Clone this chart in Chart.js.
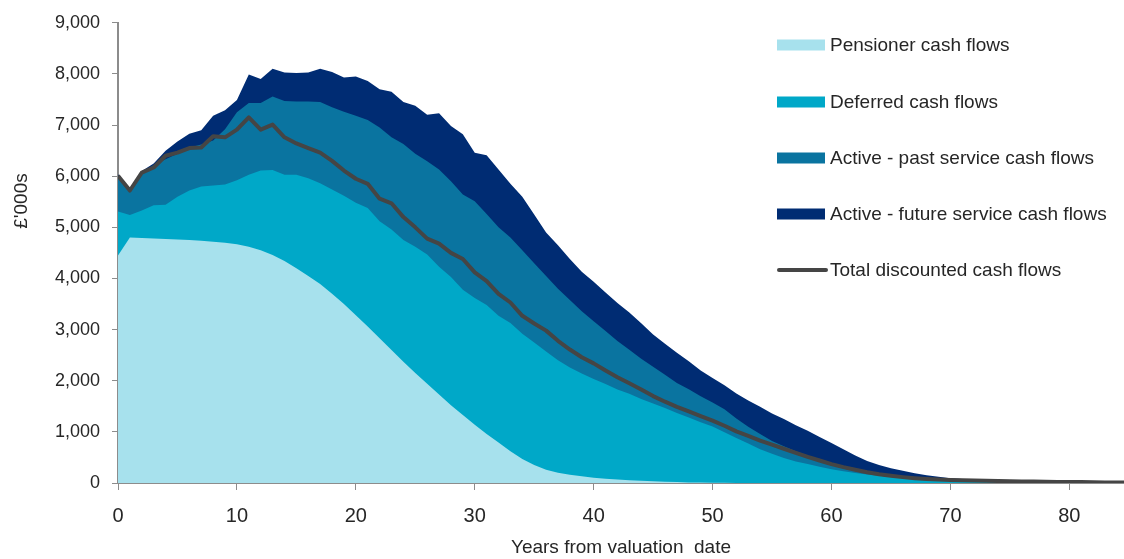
<!DOCTYPE html>
<html>
  <head>
    <meta charset="utf-8">
    <title>Cash flow projection</title>
    <script src="https://cdn.jsdelivr.net/npm/chart.js"></script>
    <style>
      html, body { margin: 0; padding: 0; background: #fff; }
      #wrap { position: relative; width: 1124px; height: 559px; }
    </style>
  </head>
  <body>
    <div id="wrap"><canvas id="myChart"></canvas></div>
    <script>
      // Years from valuation date
      const years = [
        0, 1, 2, 3, 4, 5, 6, 7, 8, 9, 10, 11, 12, 13, 14, 15, 16, 17, 18, 19,
        20, 21, 22, 23, 24, 25, 26, 27, 28, 29, 30, 31, 32, 33, 34, 35, 36, 37, 38, 39,
        40, 41, 42, 43, 44, 45, 46, 47, 48, 49, 50, 51, 52, 53, 54, 55, 56, 57, 58, 59,
        60, 61, 62, 63, 64, 65, 66, 67, 68, 69, 70, 71, 72, 73, 74, 75, 76, 77, 78, 79,
        80, 81, 82, 83, 84, 85
      ];

      // cash flows, £'000s
      const pensioner = [
        4450, 4800, 4790, 4780, 4770, 4760, 4750, 4740, 4720, 4700,
        4670, 4620, 4550, 4460, 4340, 4200, 4050, 3890, 3700, 3500,
        3280, 3060, 2830, 2600, 2370, 2150, 1940, 1730, 1520, 1330,
        1140, 960, 790, 620, 470, 350, 260, 200, 160, 130,
        105, 85, 68, 54, 42, 33, 25, 18, 12, 8,
        5, 3, 2, 1, 0, 0, 0, 0, 0, 0,
        0, 0, 0, 0, 0, 0, 0, 0, 0, 0,
        0, 0, 0, 0, 0, 0, 0, 0, 0, 0,
        0, 0, 0, 0, 0, 0
      ];
      const deferred = [
        860, 440, 540, 650, 670, 840, 970, 1060, 1100, 1140,
        1250, 1410, 1560, 1660, 1690, 1830, 1910, 1970, 2040, 2120,
        2200, 2320, 2290, 2360, 2380, 2470, 2530, 2500, 2510, 2450,
        2480, 2520, 2480, 2510, 2450, 2400, 2310, 2200, 2100, 2010,
        1930, 1850, 1760, 1690, 1600, 1520, 1440, 1350, 1270, 1180,
        1100, 990, 880, 770, 660, 570, 490, 420, 370, 320,
        270, 230, 195, 165, 140, 115, 95, 80, 65, 55,
        45, 35, 28, 22, 16, 12, 8, 5, 3, 2,
        0, 0, 0, 0, 0, 0
      ];
      const activePast = [
        690, 460, 730, 790, 890, 840, 840, 820, 880, 1080,
        1330, 1400, 1320, 1440, 1440, 1430, 1500, 1590, 1610, 1640,
        1700, 1720, 1830, 1800, 1880, 1820, 1820, 1900, 1870, 1860,
        1890, 1780, 1730, 1670, 1630, 1550, 1480, 1400, 1320, 1220,
        1130, 1040, 950, 860, 790, 720, 650, 590, 550, 510,
        470, 450, 380, 330, 300, 250, 230, 200, 170, 140,
        120, 100, 85, 70, 55, 45, 35, 25, 20, 15,
        12, 11, 9, 8, 8, 7, 6, 5, 4, 3,
        3, 2, 0, 0, 0, 0
      ];
      const activeFuture = [
        40, 50, 40, 30, 170, 240, 270, 280, 480, 370,
        240, 560, 470, 540, 560, 560, 570, 650, 690, 670,
        770, 760, 750, 890, 820, 940, 910, 1100, 1080, 1180,
        950, 1150, 1130, 1050, 1050, 950, 850, 850, 800, 770,
        770, 750, 740, 730, 690, 630, 610, 590, 550, 500,
        480, 470, 490, 510, 530, 540, 530, 510, 480, 440,
        390, 330, 260, 195, 155, 130, 110, 85, 65, 50,
        38, 34, 33, 25, 21, 16, 14, 12, 9, 7,
        5, 3, 3, 2, 1, 0
      ];
      const totalDiscounted = [
        6010, 5720, 6070, 6170, 6400, 6460, 6550, 6560, 6780, 6760,
        6910, 7150, 6910, 7010, 6760, 6640, 6550, 6460, 6300, 6110,
        5950, 5850, 5560, 5470, 5200, 5000, 4780, 4680, 4500, 4380,
        4120, 3950, 3700, 3530, 3270, 3120, 2980, 2780, 2610, 2460,
        2340, 2200, 2070, 1950, 1830, 1700, 1590, 1490, 1400, 1310,
        1220, 1120, 1010, 920, 830, 750, 670, 590, 510, 440,
        370, 310, 260, 210, 170, 140, 115, 95, 80, 70,
        60, 55, 50, 45, 40, 35, 30, 28, 25, 22,
        20, 18, 15, 12, 10, 8
      ];

      const seriesNames = [
        'Pensioner cash flows',
        'Deferred cash flows',
        'Active - past service cash flows',
        'Active - future service cash flows',
        'Total discounted cash flows'
      ];
      const yTicks = [0, 1000, 2000, 3000, 4000, 5000, 6000, 7000, 8000, 9000];
      const xTicks = [0, 10, 20, 30, 40, 50, 60, 70, 80];

      const FONT = "'Liberation Sans', Arial, sans-serif";
      const TEXT = '#262626';
      const AXIS = '#8c8c8c';

      const pts = (vals) => years.map((y, i) => ({ x: y, y: vals[i] }));

      function area(label, vals, colour) {
        return {
          label: label,
          data: pts(vals),
          stack: 'flows',
          order: 1,
          fill: 'origin',
          backgroundColor: colour,
          borderColor: colour,
          borderWidth: 0,
          pointRadius: 0,
          tension: 0
        };
      }

      const datasets = [
        {
          label: seriesNames[4],
          data: pts(totalDiscounted),
          stack: 'total',
          order: 0,
          fill: false,
          borderColor: '#454545',
          borderWidth: 4,
          borderJoinStyle: 'round',
          pointRadius: 0,
          tension: 0
        },
        area(seriesNames[0], pensioner, '#a7e1ed'),
        area(seriesNames[1], deferred, '#00a8c8'),
        area(seriesNames[2], activePast, '#0a74a0'),
        area(seriesNames[3], activeFuture, '#002c73')
      ];

      // legend + rotated y title drawn on top, same spots as the original
      const overlay = {
        id: 'overlay',
        afterDraw(chart) {
          const ctx = chart.ctx;
          ctx.save();
          ctx.font = '19px ' + FONT;
          ctx.fillStyle = TEXT;
          ctx.textBaseline = 'middle';
          const rows = [45, 102, 158, 214, 270];
          const order = [1, 2, 3, 4, 0];
          order.forEach((di, r) => {
            const ds = chart.data.datasets[di];
            const y = rows[r];
            if (ds.fill === false) {
              ctx.strokeStyle = ds.borderColor;
              ctx.lineWidth = 4;
              ctx.lineCap = 'round';
              ctx.beginPath();
              ctx.moveTo(779, y);
              ctx.lineTo(826, y);
              ctx.stroke();
            } else {
              ctx.fillStyle = ds.backgroundColor;
              ctx.fillRect(777, y - 5.5, 48, 11);
            }
            ctx.fillStyle = TEXT;
            ctx.textAlign = 'left';
            ctx.fillText(ds.label, 830, y + 1);
          });
          ctx.translate(22, 201);
          ctx.rotate(-Math.PI / 2);
          ctx.textAlign = 'center';
          ctx.fillText("£'000s", 0, 0);
          ctx.restore();
        }
      };

      const ctx = document.getElementById('myChart').getContext('2d');
      new Chart(ctx, {
        type: 'line',
        data: { datasets: datasets },
        plugins: [overlay],
        options: {
          responsive: true,
          maintainAspectRatio: false,
          animation: false,
          devicePixelRatio: 1,
          layout: { padding: { top: 17, right: 0, bottom: 0, left: 0 } },
          plugins: {
            legend: { display: false },
            tooltip: { enabled: false }
          },
          scales: {
            x: {
              type: 'linear',
              min: 0,
              max: 84.6,
              afterFit: (s) => { s.height = 76; },
              afterBuildTicks: (s) => { s.ticks = xTicks.map(v => ({ value: v })); },
              grid: { drawOnChartArea: false, drawTicks: true, tickLength: 7, color: AXIS },
              border: { display: true, color: AXIS, width: 2 },
              ticks: {
                includeBounds: false,
                maxRotation: 0,
                padding: 14,
                color: TEXT,
                font: { family: FONT, size: 20 }
              },
              title: {
                display: true,
                text: 'Years from valuation  date',
                color: TEXT,
                font: { family: FONT, size: 19 },
                padding: { top: 0, bottom: 0 }
              }
            },
            y: {
              stacked: true,
              min: 0,
              max: 9000,
              afterFit: (s) => { s.width = 118; },
              afterBuildTicks: (s) => { s.ticks = yTicks.map(v => ({ value: v })); },
              grid: { drawOnChartArea: false, drawTicks: true, tickLength: 6, color: AXIS },
              border: { display: true, color: AXIS, width: 2 },
              ticks: {
                padding: 12,
                color: TEXT,
                font: { family: FONT, size: 18 },
                callback: (v) => v.toLocaleString('en-US')
              }
            }
          }
        }
      });
    </script>
  </body>
</html>
